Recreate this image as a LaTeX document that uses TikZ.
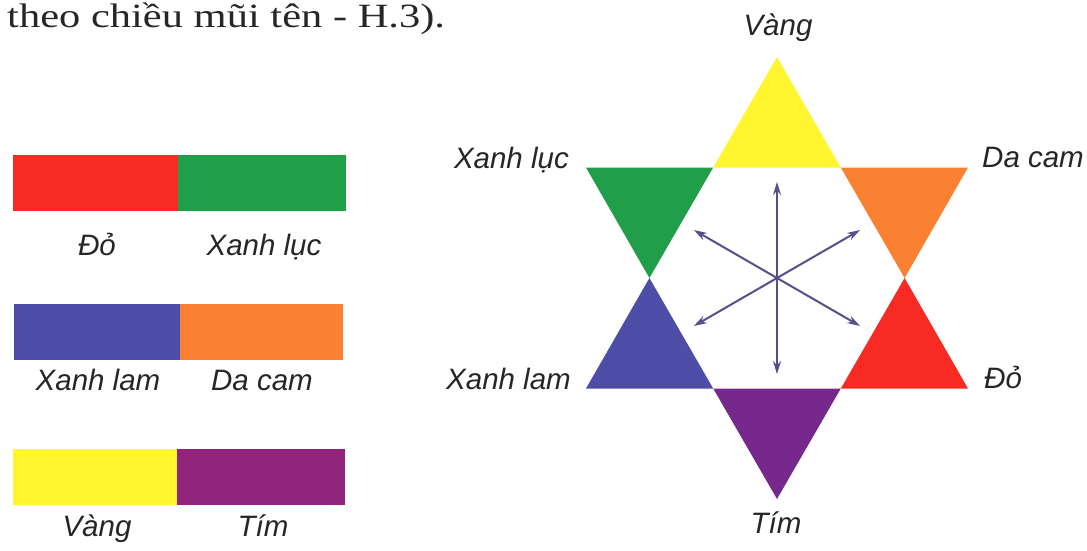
\documentclass[tikz,border=0pt]{standalone}
\usepackage{fontspec}
\usetikzlibrary{arrows.meta}
\setmainfont{Liberation Sans}
\newfontfamily\lblfont{Liberation Sans}
\newfontfamily\txtfont{Liberation Serif}
\definecolor{cYellow}{RGB}{255,246,48}
\definecolor{cGreen}{RGB}{32,158,74}
\definecolor{cOrange}{RGB}{250,128,50}
\definecolor{cBlue}{RGB}{78,78,168}
\definecolor{cRed}{RGB}{248,42,36}
\definecolor{cPurple}{RGB}{118,40,140}
\definecolor{cMagenta}{RGB}{146,36,126}
\definecolor{cArrow}{RGB}{88,78,140}
\tikzset{
  lbl/.style={inner sep=0pt, font=\lblfont\itshape\fontsize{29.5}{32}\selectfont, text=black!85},
  arr/.style={draw=cArrow, line width=2pt, {Stealth[length=13pt,width=8pt]}-{Stealth[length=13pt,width=8pt]}},
}
\begin{document}
\begin{tikzpicture}[x=1pt,y=-1pt]
\useasboundingbox (0,0) rectangle (1087,550);
\fill[white] (0,0) rectangle (1087,550);

% top text
\node[anchor=base west, inner sep=0pt, text=black!85] (top) at (7,27)
  {\scalebox{1.25}[1]{\txtfont\fontsize{34}{36}\selectfont theo chiều mũi tên - H.3).}};

% left bars
\fill[cRed]     (13,155) rectangle (178,211);
\fill[cGreen]   (178,155) rectangle (346,211);
\fill[cBlue]    (14,304) rectangle (180,360);
\fill[cOrange]  (180,304) rectangle (343,360);
\fill[cYellow]  (13,449) rectangle (177,505);
\fill[cMagenta] (177,449) rectangle (345,505);

\node[lbl, anchor=base] (b1) at (97,255) {Đỏ};
\node[lbl, anchor=base] (b2) at (264,255) {Xanh lục};
\node[lbl, anchor=base] (b3) at (98,390) {Xanh lam};
\node[lbl, anchor=base] (b4) at (262,390) {Da cam};
\node[lbl, anchor=base] (b5) at (97,536) {Vàng};
\node[lbl, anchor=base] (b6) at (263,536) {Tím};

% star coordinates
\coordinate (C)   at (777,278);
\coordinate (U1)  at (777,57);
\coordinate (U2)  at (586,388.5);
\coordinate (U3)  at (968,388.5);
\coordinate (D1)  at (586,167.5);
\coordinate (D2)  at (968,167.5);
\coordinate (D3)  at (777,499);
\coordinate (H0)  at (904.6,278);
\coordinate (H60) at (840.8,167.5);
\coordinate (H120) at (713.2,167.5);
\coordinate (H180) at (649.4,278);
\coordinate (H240) at (713.2,388.5);
\coordinate (H300) at (840.8,388.5);

\fill[cYellow] (U1) -- (H120) -- (H60) -- cycle;
\fill[cOrange] (D2) -- (H60) -- (H0) -- cycle;
\fill[cRed]    (U3) -- (H0) -- (H300) -- cycle;
\fill[cPurple] (D3) -- (H300) -- (H240) -- cycle;
\fill[cBlue]   (U2) -- (H240) -- (H180) -- cycle;
\fill[cGreen]  (D1) -- (H180) -- (H120) -- cycle;

% arrows
\coordinate (A90)  at (777,182);
\coordinate (A270) at (777,374);
\coordinate (A150) at (693.9,230);
\coordinate (A30)  at (860.1,230);
\coordinate (A210) at (693.9,326);
\coordinate (A330) at (860.1,326);
\draw[arr] (A270) -- (A90);
\draw[arr] (A210) -- (A30);
\draw[arr] (A330) -- (A150);

% star labels
\node[lbl, anchor=base] (lv) at (778,35) {Vàng};
\node[lbl, anchor=base east] (lxl) at (569,168) {Xanh lục};
\node[lbl, anchor=base west] (ldc) at (982,167) {Da cam};
\node[lbl, anchor=base east] (lxm) at (571,389) {Xanh lam};
\node[lbl, anchor=base west] (ld) at (984,388) {Đỏ};
\node[lbl, anchor=base] (lt) at (776,533) {Tím};
\end{tikzpicture}
\end{document}
